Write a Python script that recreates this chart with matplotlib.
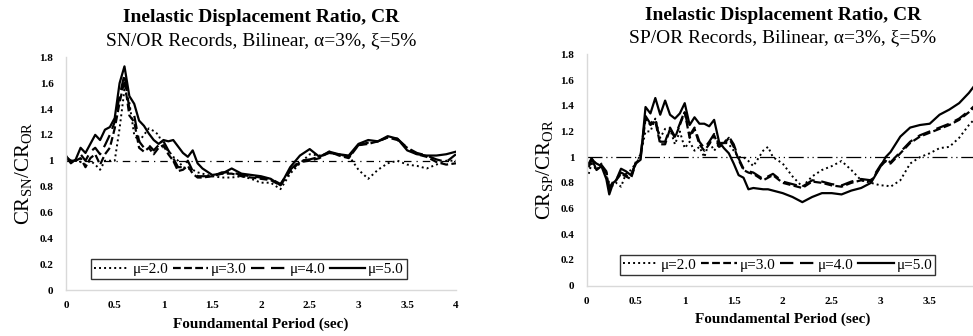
import matplotlib
matplotlib.use("Agg")
import matplotlib.pyplot as plt

plt.rcParams['font.family'] = ['Liberation Serif', 'DejaVu Serif']
plt.rcParams['mathtext.fontset'] = 'custom'
plt.rcParams['mathtext.rm'] = 'Liberation Serif'

# ---- SN/OR panel ----
sn_t = [0, 0.05, 0.1, 0.15, 0.2, 0.25, 0.3, 0.35, 0.4, 0.45, 0.5, 0.55, 0.6, 0.65, 0.7,
        0.75, 0.8, 0.85, 0.9, 0.95, 1.0, 1.05, 1.1, 1.15, 1.2, 1.25, 1.3, 1.35, 1.4, 1.5,
        1.6, 1.7, 1.8, 1.9, 2.0, 2.1, 2.2, 2.3, 2.4, 2.5, 2.6, 2.7, 2.8, 2.9, 3.0, 3.1,
        3.2, 3.3, 3.4, 3.5, 3.6, 3.7, 3.8, 3.9, 4.0]
sn_mu2 = [1.03, 1.0, 1.0, 0.99, 0.97, 1.0, 0.97, 0.93, 1.0, 1.0, 1.0, 1.25, 1.55, 1.45, 1.2,
          1.15, 1.2, 1.25, 1.23, 1.2, 1.1, 1.08, 1.03, 1.0, 0.95, 0.94, 0.93, 0.91, 0.9, 0.88,
          0.87, 0.87, 0.88, 0.86, 0.83, 0.83, 0.78, 0.9, 0.98, 1.05, 1.04, 1.06, 1.05, 1.04, 0.93, 0.86,
          0.93, 0.98, 1.0, 0.97, 0.96, 0.94, 0.97, 1.0, 1.0]
sn_mu3 = [1.02, 0.99, 1.0, 1.02, 0.95, 1.02, 1.05, 0.97, 1.05, 1.1, 1.25, 1.45, 1.62, 1.35, 1.3,
          1.1, 1.07, 1.1, 1.05, 1.1, 1.12, 1.05, 1.0, 0.92, 0.93, 0.96, 0.9, 0.87, 0.87, 0.88,
          0.9, 0.9, 0.88, 0.87, 0.86, 0.85, 0.81, 0.92, 0.99, 1.0, 1.02, 1.07, 1.04, 1.02, 1.12, 1.13,
          1.15, 1.18, 1.16, 1.1, 1.05, 1.03, 0.99, 0.97, 0.98]
sn_mu4 = [1.03, 1.0, 1.0, 1.05, 1.0, 1.07, 1.1, 1.05, 1.12, 1.2, 1.3, 1.5, 1.67, 1.4, 1.35,
          1.15, 1.1, 1.12, 1.08, 1.12, 1.15, 1.08, 1.02, 0.95, 0.95, 1.0, 0.92, 0.88, 0.88, 0.88,
          0.91, 0.91, 0.89, 0.88, 0.87, 0.86, 0.82, 0.93, 1.0, 1.01, 1.03, 1.06, 1.05, 1.03, 1.12, 1.14,
          1.15, 1.18, 1.17, 1.1, 1.06, 1.04, 1.01, 0.99, 1.05]
sn_mu5 = [1.04, 0.98, 1.01, 1.1, 1.06, 1.13, 1.2, 1.16, 1.24, 1.26, 1.33, 1.6, 1.73, 1.5, 1.44,
          1.31, 1.27, 1.21, 1.16, 1.13, 1.16, 1.15, 1.16, 1.11, 1.06, 1.03, 1.08, 0.98, 0.94, 0.89,
          0.9, 0.94, 0.9, 0.89, 0.88, 0.86, 0.81, 0.95, 1.04, 1.09, 1.03, 1.07, 1.05, 1.04, 1.13, 1.16,
          1.15, 1.19, 1.17, 1.08, 1.05, 1.04, 1.04, 1.05, 1.07]

# ---- SP/OR panel ----
sp_t = [0.02, 0.05, 0.1, 0.15, 0.2, 0.23, 0.27, 0.3, 0.35, 0.4, 0.45, 0.5, 0.55, 0.6, 0.65,
        0.7, 0.75, 0.8, 0.85, 0.9, 0.95, 1.0, 1.05, 1.1, 1.15, 1.2, 1.25, 1.3, 1.35, 1.4,
        1.45, 1.5, 1.55, 1.6, 1.65, 1.7, 1.8, 1.85, 1.9, 2.0, 2.1, 2.2, 2.3, 2.4, 2.5, 2.6,
        2.7, 2.8, 2.9, 3.0, 3.05, 3.1, 3.2, 3.3, 3.4, 3.5, 3.6, 3.7, 3.8, 3.9, 4.0]
sp_mu2 = [0.87, 0.95, 0.9, 0.95, 0.85, 0.8, 0.78, 0.8, 0.77, 0.87, 0.9, 0.95, 1.02, 1.2, 1.2,
          1.3, 1.15, 1.22, 1.22, 1.1, 1.2, 1.07, 1.12, 1.05, 1.08, 1.0, 1.12, 1.05, 1.1, 1.12,
          1.1, 1.05, 1.0, 1.0, 0.97, 0.93, 1.05, 1.08, 1.0, 0.95, 0.85, 0.77, 0.85, 0.9, 0.93, 0.97,
          0.9, 0.82, 0.8, 0.78, 0.78, 0.77, 0.82, 0.95, 1.0, 1.03, 1.07, 1.08, 1.15, 1.25, 1.33]
sp_mu3 = [0.92, 0.98, 0.95, 0.93, 0.88, 0.75, 0.8, 0.82, 0.87, 0.85, 0.83, 0.95, 1.0, 1.3, 1.25,
          1.28, 1.1, 1.1, 1.22, 1.15, 1.25, 1.35, 1.15, 1.22, 1.1, 1.05, 1.1, 1.17, 1.08, 1.1,
          1.15, 1.08, 0.98, 0.9, 0.88, 0.87, 0.82, 0.84, 0.86, 0.8, 0.78, 0.76, 0.81, 0.8, 0.78, 0.77,
          0.8, 0.82, 0.81, 0.93, 0.97, 0.95, 1.03, 1.11, 1.16, 1.19, 1.22, 1.25, 1.29, 1.35, 1.42]
sp_mu4 = [0.93, 0.99, 0.94, 0.94, 0.89, 0.76, 0.81, 0.83, 0.88, 0.86, 0.84, 0.96, 1.02, 1.32, 1.26,
          1.3, 1.12, 1.12, 1.23, 1.16, 1.26, 1.36, 1.17, 1.23, 1.12, 1.07, 1.12, 1.18, 1.1, 1.11,
          1.16, 1.1, 0.99, 0.91, 0.89, 0.88, 0.83, 0.85, 0.87, 0.81, 0.79, 0.77, 0.82, 0.81, 0.79, 0.78,
          0.81, 0.83, 0.82, 0.94, 0.98, 0.96, 1.04, 1.12, 1.17, 1.2, 1.23, 1.26, 1.3, 1.36, 1.43]
sp_mu5 = [0.95, 0.99, 0.9, 0.93, 0.83, 0.71, 0.8, 0.82, 0.91, 0.89, 0.86, 0.95, 0.98, 1.39, 1.34,
          1.46, 1.33, 1.44, 1.33, 1.3, 1.34, 1.42, 1.25, 1.31, 1.26, 1.26, 1.24, 1.29, 1.12, 1.07,
          1.03, 0.95, 0.86, 0.84, 0.75, 0.76, 0.75, 0.75, 0.74, 0.72, 0.69, 0.65, 0.69, 0.72, 0.72, 0.71,
          0.74, 0.76, 0.8, 0.93, 1.0, 1.04, 1.16, 1.23, 1.25, 1.26, 1.33, 1.37, 1.42, 1.5, 1.6]

mu_labels = ['μ=2.0', 'μ=3.0', 'μ=4.0', 'μ=5.0']
y_ticks = [0, 0.2, 0.4, 0.6, 0.8, 1, 1.2, 1.4, 1.6, 1.8]
x_ticks = [0, 0.5, 1, 1.5, 2, 2.5, 3, 3.5, 4]

styles = [dict(ls=(0, (1, 1.6)), lw=1.4),
          dict(ls=(0, (3.5, 1.5)), lw=1.6),
          dict(ls=(0, (6, 3)), lw=1.6),
          dict(ls='-', lw=1.6)]

fig = plt.figure(figsize=(9.73, 3.36), dpi=100)
ax1 = fig.add_axes([0.0678, 0.1369, 0.4008, 0.6926])
ax2 = fig.add_axes([0.603, 0.1497, 0.4029, 0.6887])


def style_axes(ax, t, series, ref_ls, ylabel, subtitle, leg_x, title_y, sub_y):
    for s, lab, st in zip(series, mu_labels, styles):
        ax.plot(t, s, color='black', label=lab, **st)
    ax.axhline(1, color='black', lw=0.9, ls=ref_ls, zorder=1)
    ax.set_xlim(0, 4)
    ax.set_ylim(0, 1.8)
    ax.set_xticks(x_ticks)
    ax.set_xticklabels([f'{v:g}' for v in x_ticks])
    ax.set_yticks(y_ticks)
    ax.set_yticklabels([f'{v:g}' for v in y_ticks])
    ax.tick_params(length=0, labelsize=8)
    ax.tick_params(axis='y', pad=9)
    ax.tick_params(axis='x', pad=8)
    for lbl in ax.get_xticklabels() + ax.get_yticklabels():
        lbl.set_fontweight('bold')
    for side in ['top', 'right']:
        ax.spines[side].set_visible(False)
    for side in ['left', 'bottom']:
        ax.spines[side].set_color('#d9d9d9')
        ax.spines[side].set_linewidth(1.0)
    ax.set_ylabel(ylabel, fontsize=15, labelpad=3)
    ax.set_xlabel('Foundamental Period (sec)', fontsize=11, fontweight='bold', labelpad=5)
    ax.text(0.5, sub_y, subtitle, transform=ax.transAxes,
            ha='center', va='center', fontsize=14)
    ax.text(0.5, title_y, 'Inelastic Displacement Ratio, CR', transform=ax.transAxes,
            ha='center', va='center', fontsize=14, fontweight='bold')
    leg = ax.legend(loc='center', bbox_to_anchor=(leg_x, 0.09), ncol=4, fontsize=11,
                    frameon=True, fancybox=False, handlelength=2.3, handletextpad=0.2,
                    columnspacing=0.3, borderpad=0.2)
    leg.get_frame().set_edgecolor('black')
    leg.get_frame().set_linewidth(1.0)


style_axes(ax1, sn_t, [sn_mu2, sn_mu3, sn_mu4, sn_mu5], (0, (6, 4, 1, 4)),
           'CR$_{\\mathrm{SN}}$/CR$_{\\mathrm{OR}}$',
           'SN/OR Records, Bilinear, α=3%, ξ=5%', 0.469, 1.173, 1.07)
style_axes(ax2, sp_t, [sp_mu2, sp_mu3, sp_mu4, sp_mu5], (0, (12, 3, 1, 3, 1, 3)),
           'CR$_{\\mathrm{SP}}$/CR$_{\\mathrm{OR}}$',
           'SP/OR Records, Bilinear, α=3%, ξ=5%', 0.487, 1.167, 1.072)

fig.savefig('out.png', dpi=100)
